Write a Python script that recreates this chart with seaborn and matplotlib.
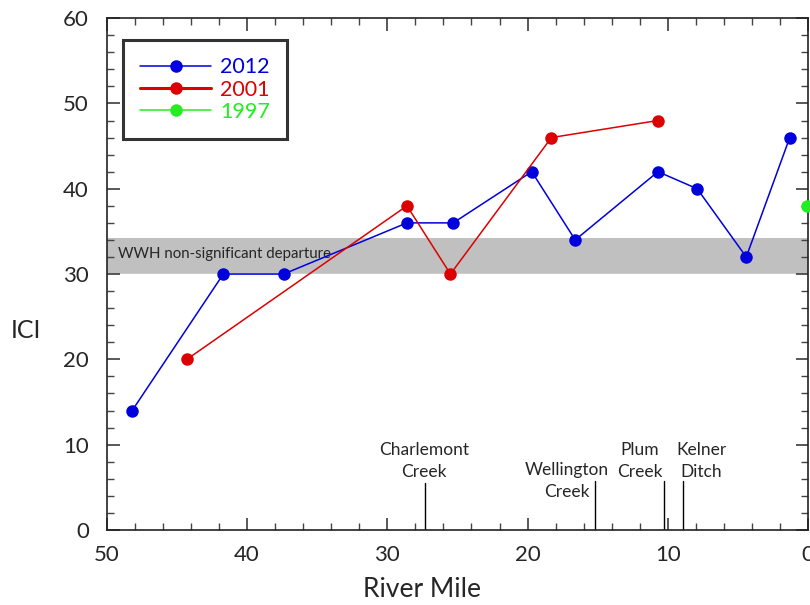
import numpy as np
import pandas as pd
import seaborn as sns
import matplotlib.pyplot as plt
from matplotlib.ticker import MultipleLocator

# ICI values by river mile for each sampling year
mile_2012 = [48.2, 41.7, 37.4, 28.6, 25.3, 19.7, 16.6, 10.7, 7.9, 4.4, 1.3]
ici_2012 = [14, 30, 30, 36, 36, 42, 34, 42, 40, 32, 46]
mile_2001 = [44.3, 28.6, 25.5, 18.3, 10.7]
ici_2001 = [20, 38, 30, 46, 48]
mile_1997 = [0.1]
ici_1997 = [38]

# tributaries along the river
trib_names = ["Charlemont\nCreek", "Wellington\nCreek", "Plum\nCreek", "Kelner\nDitch"]
trib_miles = [27.3, 15.2, 10.3, 8.9]

band_low, band_high = 30, 34.2

sns.set_theme(style="ticks")
plt.rcParams['font.family'] = ['Lato', 'DejaVu Sans']

fig = plt.figure(figsize=(8.1, 6.05), dpi=100)
ax = fig.add_axes([0.132, 0.124, 0.8655, 0.846])

# non-significant departure band
ax.axhspan(band_low, band_high, color="#c0c0c0", lw=0, zorder=0)
ax.axhline(band_low, color="white", lw=1, zorder=0.5)
ax.text(49.2, 32.3, "WWH non-significant departure", fontsize=10.8, va="center", ha="left")

df12 = pd.DataFrame({"mile": mile_2012, "ici": ici_2012})
df01 = pd.DataFrame({"mile": mile_2001, "ici": ici_2001})
df97 = pd.DataFrame({"mile": mile_1997, "ici": ici_1997})

sns.lineplot(data=df12, x="mile", y="ici", color="#0000dd", marker="o", markersize=9,
             markeredgewidth=0, lw=1.1, ax=ax, label="2012", zorder=3)
sns.lineplot(data=df01, x="mile", y="ici", color="#dd0000", marker="o", markersize=9,
             markeredgewidth=0, lw=1.1, ax=ax, label="2001", zorder=3)
sns.lineplot(data=df97, x="mile", y="ici", color="#22ee22", marker="o", markersize=9,
             markeredgewidth=0, lw=1.1, ax=ax, label="1997", zorder=3, clip_on=False)

# tributary markers: line top and label position (mile, ici)
trib_tops = [5.5, 5.7, 5.7, 5.7]
label_pos = [(27.4, 8.05), (17.2, 5.7), (12.0, 8.05), (7.6, 8.05)]
for name, m, top, (lx, ly) in zip(trib_names, trib_miles, trib_tops, label_pos):
    ax.plot([m, m], [0, top], color="black", lw=1)
    ax.text(lx, ly, name, ha="center", va="center", fontsize=12.5,
            multialignment="center", linespacing=1.45)

ax.set_xlim(50, 0)
ax.set_ylim(0, 60)
ax.xaxis.set_major_locator(MultipleLocator(10))
ax.xaxis.set_minor_locator(MultipleLocator(2))
ax.yaxis.set_major_locator(MultipleLocator(10))
ax.yaxis.set_minor_locator(MultipleLocator(2))
ax.tick_params(which="both", direction="in", top=True, right=True, color="#444444")
ax.tick_params(which="major", length=9, labelsize=16)
ax.tick_params(axis="x", which="major", pad=11)
ax.tick_params(axis="y", which="major", pad=13)
ax.tick_params(which="minor", length=5)
for s in ax.spines.values():
    s.set_linewidth(1.2)
    s.set_color("#222222")

ax.set_xlabel("River Mile", fontsize=19, va="center")
ax.xaxis.set_label_coords(0.449, -0.117)
ax.set_ylabel("ICI", fontsize=18, rotation=0, va="center", ha="center")
ax.yaxis.set_label_coords(-0.116, 0.39)

leg = ax.legend(loc="upper left", bbox_to_anchor=(0.023, 0.957), borderaxespad=0,
                fontsize=15.5, frameon=True, fancybox=False, handlelength=3.3,
                labelspacing=0.1, borderpad=0.8, handletextpad=0.4)
leg.get_frame().set_edgecolor("black")
leg.get_frame().set_linewidth(2.2)
leg.legend_handles[1].set_linewidth(2.2)
for t, c in zip(leg.get_texts(), ["#0000dd", "#dd0000", "#22ee22"]):
    t.set_color(c)

fig.savefig("out.png", dpi=100)
